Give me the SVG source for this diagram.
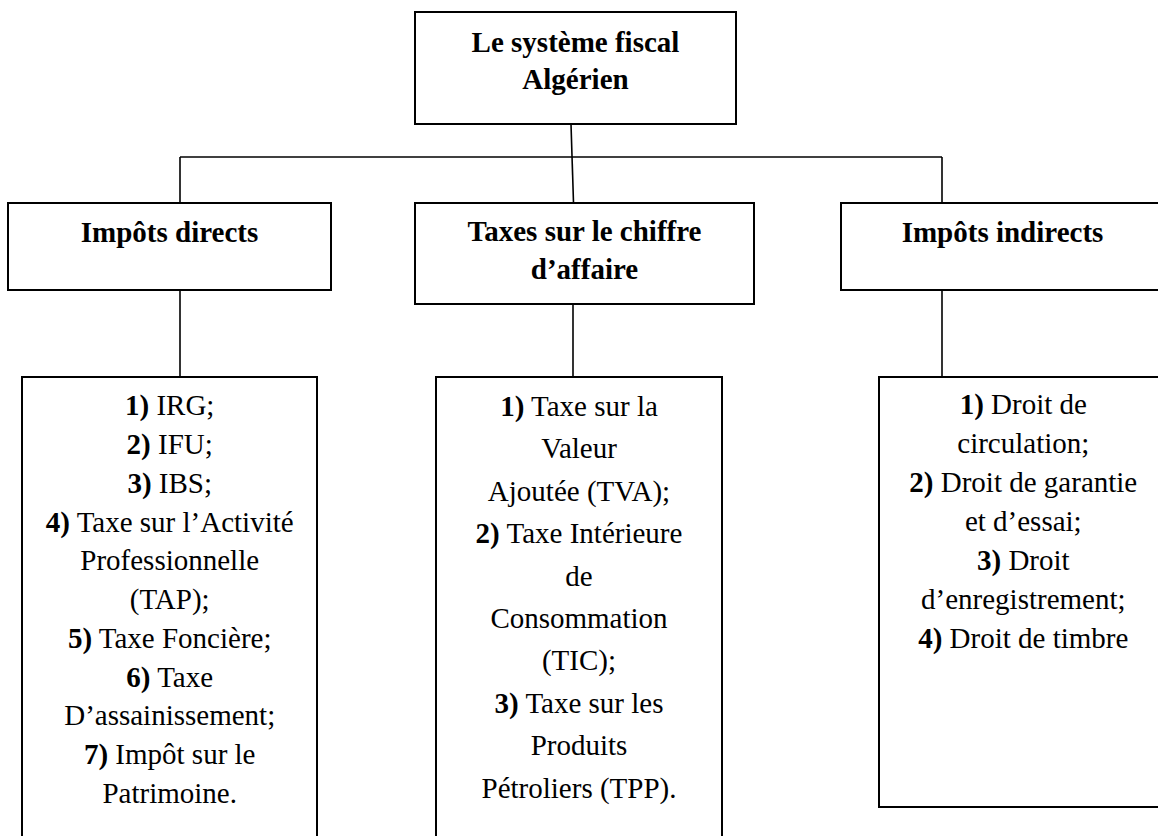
<svg xmlns="http://www.w3.org/2000/svg" width="1158" height="836" viewBox="0 0 1158 836" font-family="'Liberation Serif', Tinos, 'Times New Roman', 'DejaVu Serif', serif">
<style>
.box{fill:#fff;stroke:#000;stroke-width:2}
.con{fill:none;stroke:#000;stroke-width:1.6}
text{font-family:'Liberation Serif', Tinos, 'Times New Roman', 'DejaVu Serif', serif;font-size:29px;fill:#000;text-anchor:middle}
.t{font-weight:bold}
.b{font-weight:bold}
</style>
<rect width="1158" height="836" fill="#fff"/>
<g id="connectors">
<line class="con" x1="571" y1="124" x2="573.5" y2="203"/>
<line class="con" x1="180" y1="157" x2="942" y2="157"/>
<line class="con" x1="180" y1="157" x2="180" y2="203"/>
<line class="con" x1="942" y1="157" x2="942" y2="203"/>
<line class="con" x1="180" y1="290" x2="180" y2="377"/>
<line class="con" x1="573" y1="304" x2="573" y2="377"/>
<line class="con" x1="942" y1="290" x2="942" y2="377"/>
</g>
<g id="root">
<rect class="box" x="415" y="12" width="321" height="112"/>
<text class="t" x="575.5" y="52">Le système fiscal</text>
<text class="t" x="575.5" y="88.5">Algérien</text>
</g>
<g id="impots-directs">
<rect class="box" x="8" y="203" width="323" height="87"/>
<text class="t" x="169.5" y="242">Impôts directs</text>
</g>
<g id="taxes-ca">
<rect class="box" x="415" y="203" width="339" height="101"/>
<text class="t" x="584.5" y="241">Taxes sur le chiffre</text>
<text class="t" x="584.5" y="278.5">d’affaire</text>
</g>
<g id="impots-indirects">
<rect class="box" x="841" y="203" width="323" height="87"/>
<text class="t" x="1002.5" y="242">Impôts indirects</text>
</g>
<g id="list-directs">
<rect class="box" x="22" y="377" width="295" height="480"/>
<text x="169.7" y="415.2"><tspan class="b">1)</tspan> IRG;</text>
<text x="169.7" y="454"><tspan class="b">2)</tspan> IFU;</text>
<text x="169.7" y="492.7"><tspan class="b">3)</tspan> IBS;</text>
<text x="169.7" y="531.5"><tspan class="b">4)</tspan> Taxe sur l’Activité</text>
<text x="169.7" y="570.2">Professionnelle</text>
<text x="169.7" y="609">(TAP);</text>
<text x="169.7" y="647.7"><tspan class="b">5)</tspan> Taxe Foncière;</text>
<text x="169.7" y="686.5"><tspan class="b">6)</tspan> Taxe</text>
<text x="169.7" y="725.2">D’assainissement;</text>
<text x="169.7" y="764"><tspan class="b">7)</tspan> Impôt sur le</text>
<text x="169.7" y="802.7">Patrimoine.</text>
</g>
<g id="list-ca">
<rect class="box" x="436" y="377" width="286" height="480"/>
<text x="579" y="416"><tspan class="b">1)</tspan> Taxe sur la</text>
<text x="579" y="458.4">Valeur</text>
<text x="579" y="500.8">Ajoutée (TVA);</text>
<text x="579" y="543.2"><tspan class="b">2)</tspan> Taxe Intérieure</text>
<text x="579" y="585.6">de</text>
<text x="579" y="628">Consommation</text>
<text x="579" y="670.4">(TIC);</text>
<text x="579" y="712.8"><tspan class="b">3)</tspan> Taxe sur les</text>
<text x="579" y="755.2">Produits</text>
<text x="579" y="797.6">Pétroliers (TPP).</text>
</g>
<g id="list-indirects">
<rect class="box" x="879" y="377" width="290" height="430"/>
<text x="1023.3" y="414.2"><tspan class="b">1)</tspan> Droit de</text>
<text x="1023.3" y="453.1">circulation;</text>
<text x="1023.3" y="492"><tspan class="b">2)</tspan> Droit de garantie</text>
<text x="1023.3" y="530.9">et d’essai;</text>
<text x="1023.3" y="569.8"><tspan class="b">3)</tspan> Droit</text>
<text x="1023.3" y="608.7">d’enregistrement;</text>
<text x="1023.3" y="647.6"><tspan class="b">4)</tspan> Droit de timbre</text>
</g>
</svg>
